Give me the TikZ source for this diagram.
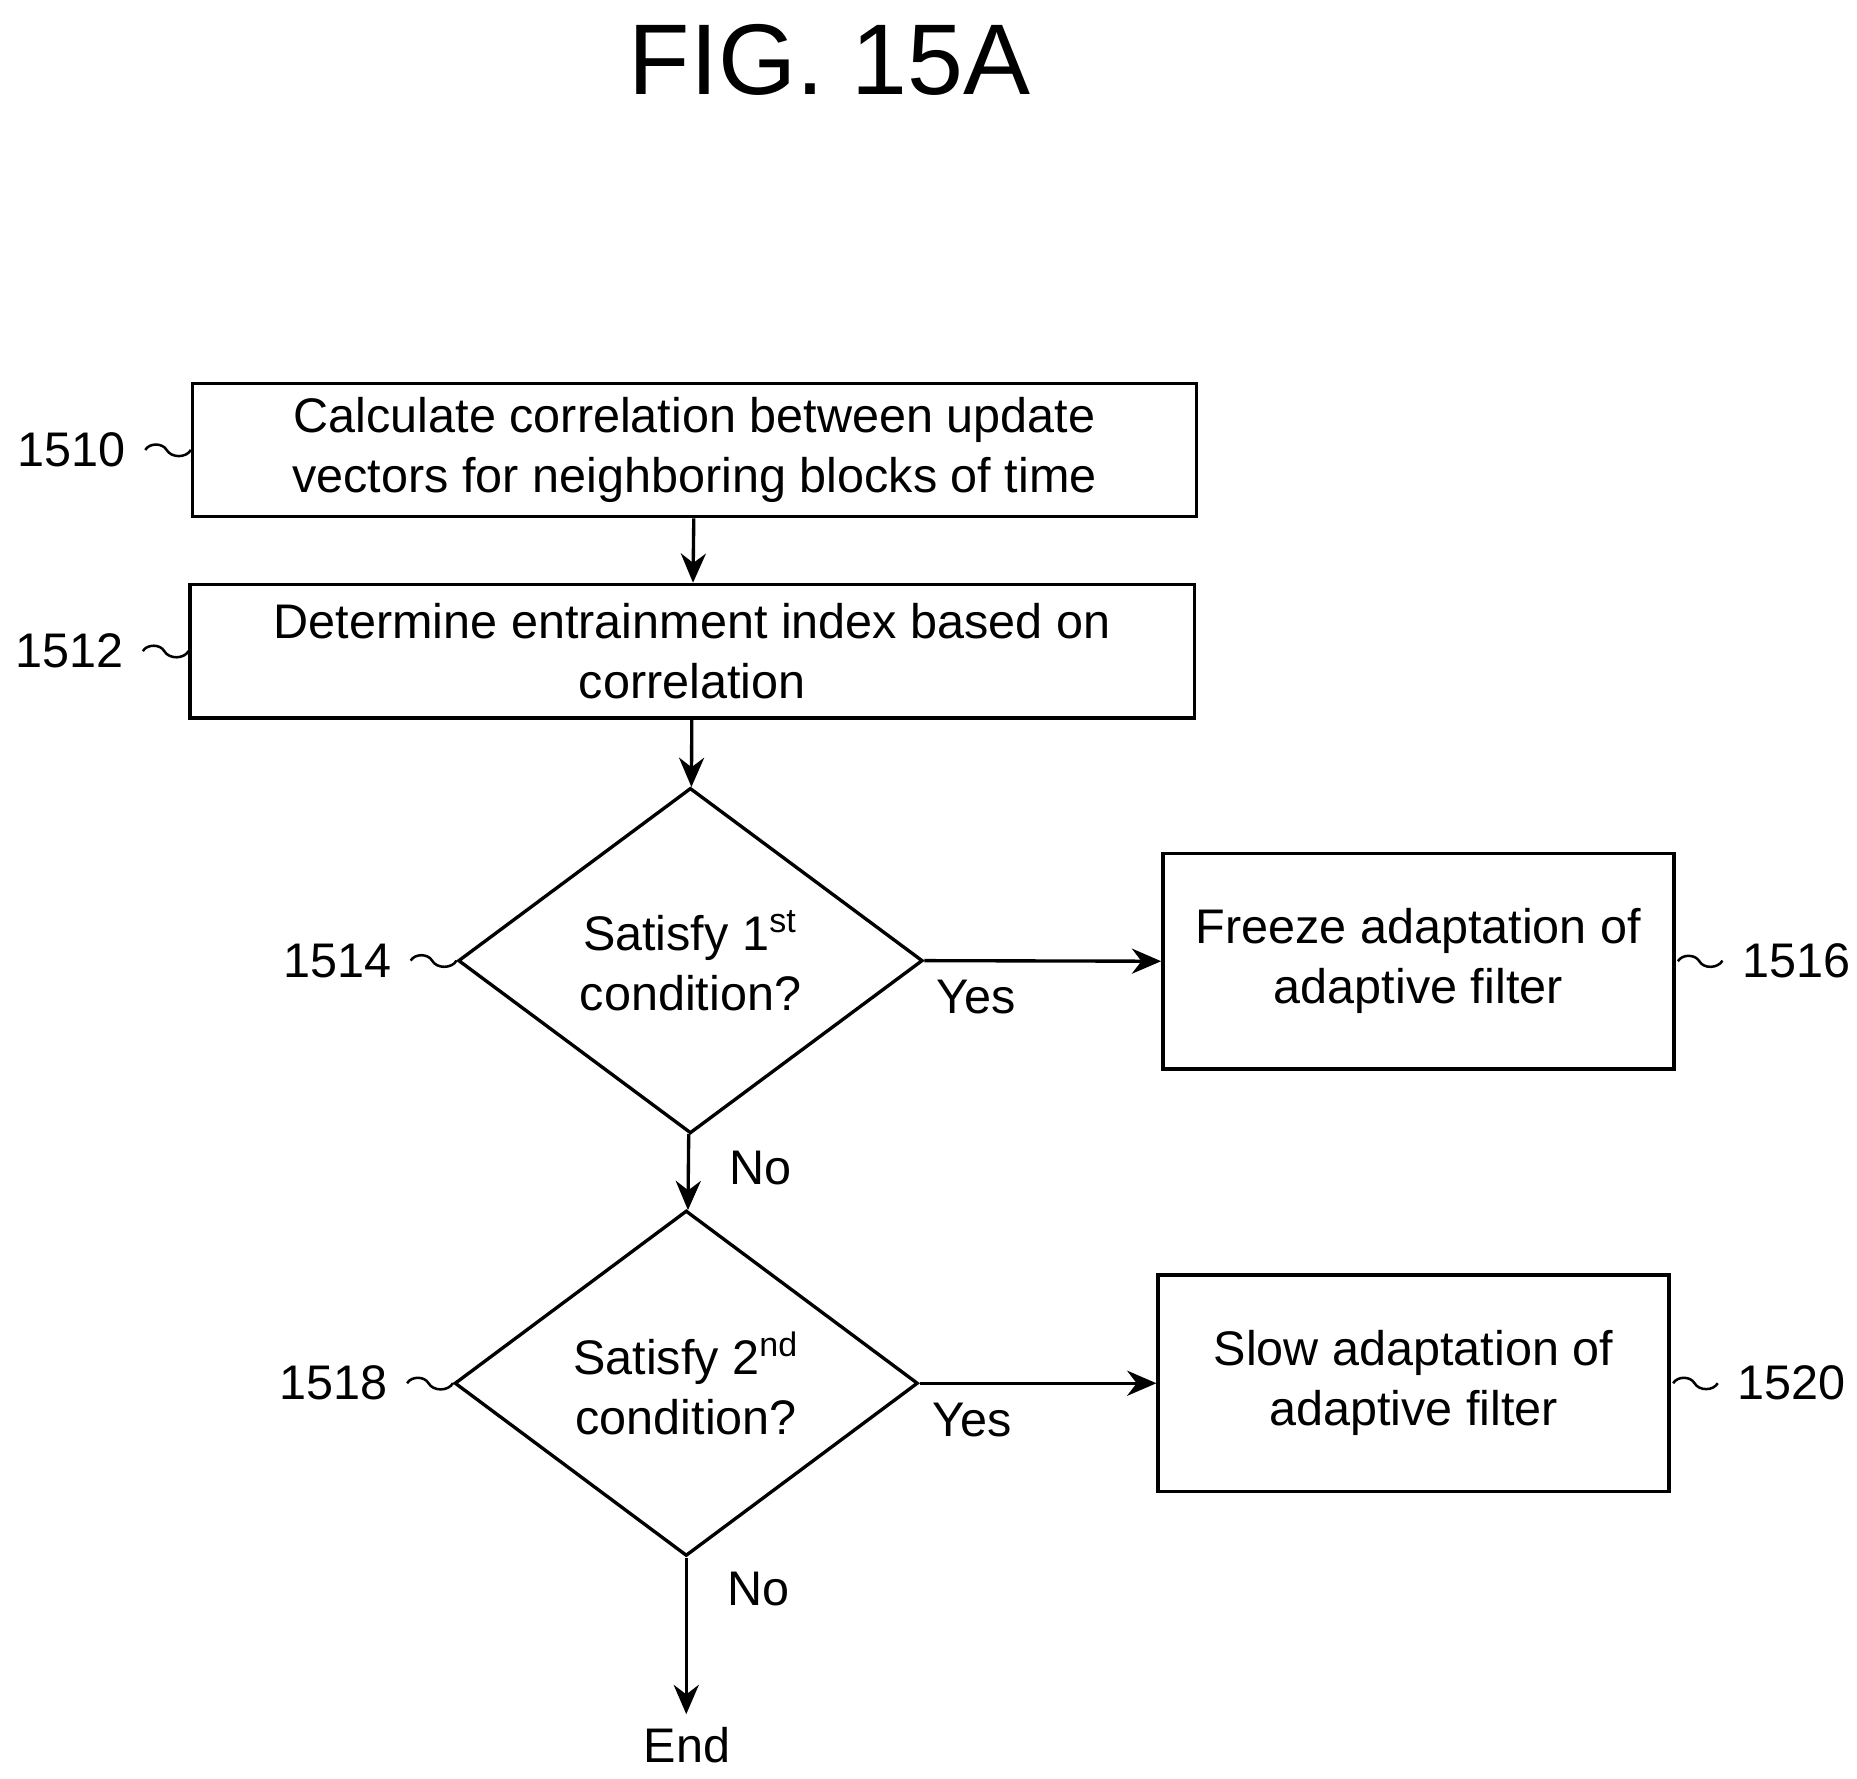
\documentclass[tikz,border=0pt]{standalone}
\usepackage{fontspec}
\setmainfont{Liberation Sans}
\usetikzlibrary{shapes.geometric,arrows.meta,calc}
\begin{document}
\begin{tikzpicture}[line width=.8pt, x=0.01cm, y=-0.01cm,
    font=\fontsize{11.6}{14.3}\selectfont]
    \tikzstyle{box}=[draw, rectangle, align=center, inner sep=0pt]
    \tikzstyle{dec}=[draw, diamond, aspect=1.345, inner sep=0pt, align=center]
    \tikzstyle{arr}=[-{Stealth[length=7pt,width=6pt]}]
    \tikzstyle{num}=[inner sep=0pt]
    \useasboundingbox (0,0) rectangle (1560,1494);
    \node (title) at (697,50) {\fontsize{24}{28}\selectfont FIG. 15A};
    % steps
    \node[box, minimum width=8.43cm, minimum height=1.12cm] (s1510) at (583.5,378) {Calculate correlation between update\\vectors for neighboring blocks of time};
    \node[box, minimum width=8.43cm, minimum height=1.12cm] (s1512) at (581.5,547) {Determine entrainment index based on\\correlation};
    \node[dec, minimum width=3.9cm, minimum height=2.9cm] (s1514) at (580,807) {Satisfy 1\textsuperscript{st}\\condition?};
    \node[box, minimum width=4.29cm, minimum height=1.81cm] (s1516) at (1191.5,807.5) {Freeze adaptation of\\adaptive filter};
    \node[dec, minimum width=3.89cm, minimum height=2.9cm] (s1518) at (576.5,1162) {Satisfy 2\textsuperscript{nd}\\condition?};
    \node[box, minimum width=4.29cm, minimum height=1.82cm] (s1520) at (1187.5,1162) {Slow adaptation of\\adaptive filter};
    \node (end) at (577,1466) {End};
    \coordinate (stop) at (576.5,1440);
    % flow
    \draw[arr] (s1510) -- (s1512);
    \draw[arr] (s1512) -- (s1514);
    \draw[arr] (s1514) -- node[pos=.45, right=6pt] {No} (s1518);
    \draw[arr] (s1514.east) -- node[pos=.22, below=1pt] {Yes} (s1516.west);
    \draw[arr] (s1518.east) -- node[pos=.22, below=1pt] {Yes} (s1520.west);
    \draw[arr] (s1518.south) -- node[pos=.2, right=6pt] {No} (stop);
    % reference numbers
    \node[num, anchor=east] (n1510) at (107,378) {1510};
    \node[num, anchor=east] (n1512) at (105,547) {1512};
    \node[num, anchor=east] (n1514) at (330,807) {1514};
    \node[num, anchor=east] (n1518) at (327,1162) {1518};
    \node[num, anchor=west] (n1516) at (1462,807) {1516};
    \node[num, anchor=west] (n1520) at (1458,1162) {1520};
    \tikzstyle{sq}=[line width=.6pt]
    \draw[sq] (n1510.east) ++(15,0) to[out=60,in=120] ++(18,0) to[out=-60,in=-120] (s1510.west);
    \draw[sq] (n1512.east) ++(15,0) to[out=60,in=120] ++(18,0) to[out=-60,in=-120] (s1512.west);
    \draw[sq] (n1514.east) ++(15,0) to[out=60,in=120] ++(18,0) to[out=-60,in=-120] (s1514.west);
    \draw[sq] (n1518.east) ++(15,0) to[out=60,in=120] ++(18,0) to[out=-60,in=-120] (s1518.west);
    \draw[sq] (s1516.east) ++(2,0) to[out=60,in=120] ++(18,0) to[out=-60,in=-120] ($(n1516.west)+(-15,0)$);
    \draw[sq] (s1520.east) ++(2,0) to[out=60,in=120] ++(18,0) to[out=-60,in=-120] ($(n1520.west)+(-15,0)$);
\end{tikzpicture}
\end{document}
